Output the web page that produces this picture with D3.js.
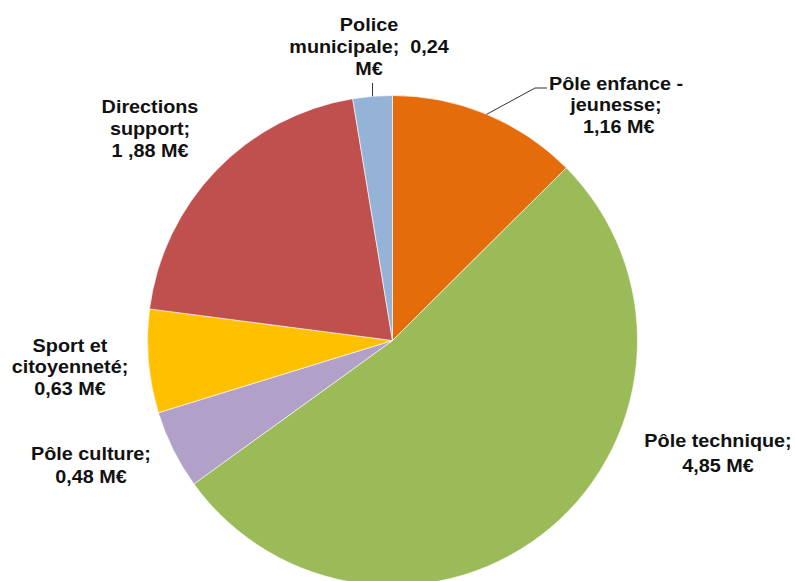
<!DOCTYPE html>
<html>
<head>
<meta charset="utf-8">
<script src="https://cdn.jsdelivr.net/npm/d3@7"></script>
<style>
  html, body { margin: 0; padding: 0; background: #fff; }
  svg { display: block; }
  .lbl { font-family: "Liberation Sans", Arial, sans-serif; font-weight: bold; font-size: 18px; fill: #111; }
</style>
</head>
<body>
<svg id="chart" width="795" height="581"></svg>
<script>
// Budget par pôle (M€), dans l'ordre horaire depuis midi
const categories = ["Pôle enfance - jeunesse", "Pôle technique", "Pôle culture",
                    "Sport et citoyenneté", "Directions support", "Police municipale"];
const values = [1.16, 4.85, 0.48, 0.63, 1.88, 0.24];
const colors = ["#E46C0A", "#9BBB59", "#B1A0C7", "#FFC000", "#C0504D", "#95B3D7"];
const labelLines = [
  ["Pôle enfance -", "jeunesse;", " 1,16 M€"],
  ["Pôle technique;", "4,85 M€"],
  ["Pôle culture;", "0,48 M€"],
  ["Sport et", "citoyenneté;", "0,63 M€"],
  ["Directions", "support;", "1 ,88 M€"],
  ["Police", "municipale;  0,24", "M€"]
];

// Layout of the label blocks: centre x, first baseline, line step
const labelLayout = [
  { x: 616, y: 90,  step: 21.5 },
  { x: 718, y: 447, step: 25 },
  { x: 91,  y: 460, step: 23 },
  { x: 70,  y: 352, step: 21.5 },
  { x: 150, y: 113, step: 22 },
  { x: 369, y: 31,  step: 22 }
];

const cx = 392.5, cy = 340.5, R = 245;
const svg = d3.select("#chart");
const g = svg.append("g").attr("transform", `translate(${cx},${cy})`);

const pie = d3.pie().sort(null).value(d => d).startAngle(0).endAngle(2 * Math.PI);
const arcs = pie(values);
const arc = d3.arc().innerRadius(0).outerRadius(R);

g.selectAll("path.slice")
  .data(arcs)
  .join("path")
  .attr("class", "slice")
  .attr("d", arc)
  .attr("fill", (d, i) => colors[i])
  .attr("stroke", "#fff")
  .attr("stroke-width", 0.6);

// Rim point at the middle of a slice
function rimPoint(d) {
  const a = (d.startAngle + d.endAngle) / 2;
  return [cx + R * Math.sin(a), cy - R * Math.cos(a)];
}

// Leader lines
const leaders = svg.append("g").attr("fill", "none").attr("stroke", "#333").attr("stroke-width", 1);
{
  const p = rimPoint(arcs[5]);
  leaders.append("path").attr("d", d3.line()([[p[0], p[1]], [p[0], 83]]));
}
{
  const p = rimPoint(arcs[0]);
  leaders.append("path").attr("d", d3.line()([[p[0], p[1]], [535, 88], [547, 88]]));
}

// Labels
const sx = 1.1;
labelLines.forEach((lines, i) => {
  const L = labelLayout[i];
  const t = svg.append("text")
    .attr("class", "lbl")
    .attr("text-anchor", "middle")
    .attr("transform", `translate(${L.x},0) scale(${sx},1)`)
    .attr("xml:space", "preserve")
    .style("white-space", "pre");
  lines.forEach((s, k) => {
    t.append("tspan").attr("x", 0).attr("y", L.y + k * L.step).text(s);
  });
});
</script>
</body>
</html>
